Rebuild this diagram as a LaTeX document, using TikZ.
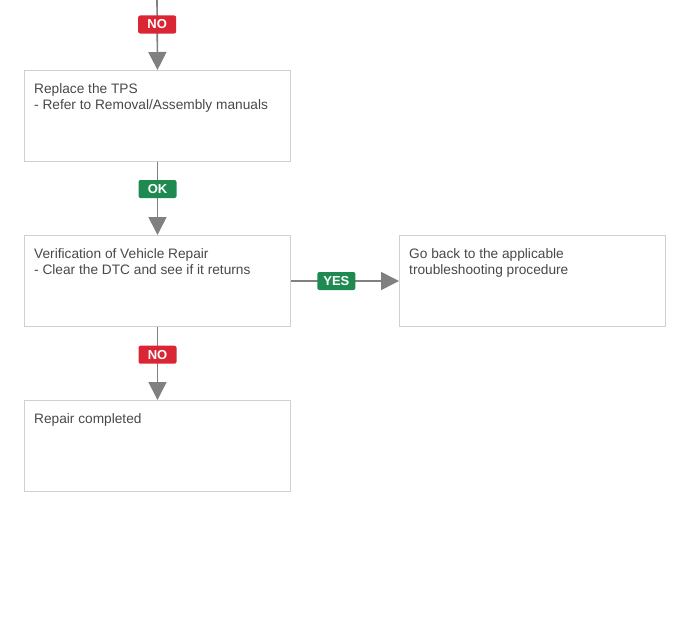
\documentclass[tikz,border=0pt]{standalone}
\usepackage{fontspec}
\setmainfont{Liberation Sans}
\usetikzlibrary{arrows.meta}
\definecolor{boxgray}{RGB}{208,208,208}
\definecolor{txtgray}{RGB}{72,72,72}
\definecolor{linegray}{RGB}{128,128,128}
\definecolor{nored}{RGB}{218,37,52}
\definecolor{okgreen}{RGB}{30,138,82}

\begin{document}
\begin{tikzpicture}[x=1pt, y=-1pt,
  stepbox/.style={draw=boxgray, line width=1pt, minimum width=266pt, minimum height=91pt, inner sep=0pt, anchor=north west},
  boxtext/.style={anchor=north west, text=txtgray, font=\fontsize{13.7}{16}\selectfont, align=left, inner sep=0pt},
  flow/.style={draw=linegray, line width=1.6pt, -{Triangle[length=18pt,width=18pt]}},
  badge/.style={fill=#1, text=white, font=\bfseries\fontsize{13}{13}\selectfont, rounded corners=2pt, minimum width=38pt, minimum height=18pt, inner sep=0pt}]
\useasboundingbox (0,0) rectangle (679,626);

% Boxes
\node[stepbox] (replace) at (24,70) {};
\node[stepbox] (verify) at (24,235) {};
\node[stepbox] (goback) at (399,235) {};
\node[stepbox] (done) at (24,400) {};

% Box texts
\node[boxtext] (replacetxt) at ([shift={(10,13.5)}]replace.north west) {Replace the TPS\\- Refer to Removal/Assembly manuals};
\node[boxtext] (verifytxt) at ([shift={(10,13.5)}]verify.north west) {Verification of Vehicle Repair\\- Clear the DTC and see if it returns};
\node[boxtext] (gobacktxt) at ([shift={(10,13.5)}]goback.north west) {Go back to the applicable\\troubleshooting procedure};
\node[boxtext] (donetxt) at ([shift={(10,13.5)}]done.north west) {Repair completed};

% Connectors
\coordinate (top) at (157,0);
\draw[flow] (top) -- (replace.north) node[badge=nored, pos=0.35] (no1) {NO};
\draw[flow] (replace.south) -- (verify.north) node[badge=okgreen, pos=0.37] (ok) {OK};
\draw[flow] (verify.east) -- (goback.west) node[badge=okgreen, pos=0.42] (yes) {YES};
\draw[flow] (verify.south) -- (done.north) node[badge=nored, pos=0.38] (no2) {NO};
\end{tikzpicture}
\end{document}
